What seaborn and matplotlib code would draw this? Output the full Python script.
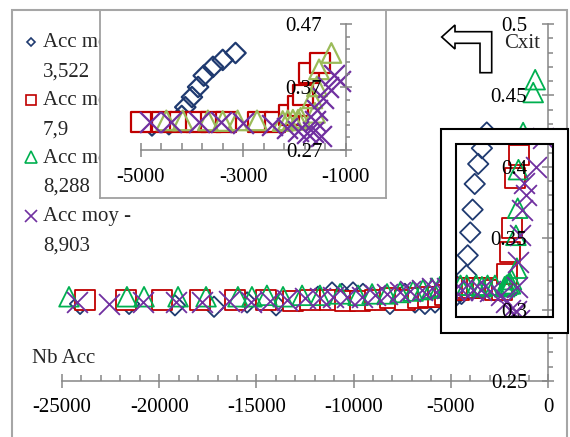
import numpy as np
import matplotlib
matplotlib.use("Agg")
import matplotlib.pyplot as plt
from matplotlib.patches import Rectangle, Polygon
from matplotlib.lines import Line2D
from matplotlib.ticker import FixedLocator, FixedFormatter, MultipleLocator
import seaborn as sns

# ---------------- data ----------------
legend_labels = ["Acc moy - 3,522", "Acc moy - 7,9", "Acc moy - 8,288", "Acc moy - 8,903"]

x_diamond = [-24070, -21550, -19190, -17180, -15480, -13990, -12810, -11830, -11110, -10600,
             -10030, -9520, -8900, -8130, -7360, -6840, -6330, -5810, -5300, -4780,
             -4450, -4200, -4130, -4000, -3880, -3770, -3590, -3400, -3150]
y_diamond = [0.304, 0.304, 0.303, 0.302, 0.305, 0.303, 0.306, 0.309, 0.312, 0.311,
             0.312, 0.311, 0.307, 0.304, 0.311, 0.305, 0.304, 0.305, 0.306, 0.309,
             0.311, 0.324, 0.338, 0.354, 0.370, 0.388, 0.402, 0.413, 0.424]

x_square = [-23820, -21710, -19860, -17900, -16100, -14510, -13120, -12240, -11210, -10440,
            -9670, -8900, -8130, -7360, -6690, -6170, -5660, -5300, -4990, -4590,
            -4230, -3920, -3630, -3340, -2710, -2380, -2100, -1930, -1830, -1720, -1500]
y_square = [0.307, 0.307, 0.307, 0.307, 0.307, 0.307, 0.306, 0.307, 0.307, 0.306,
            0.306, 0.307, 0.308, 0.307, 0.308, 0.309, 0.309, 0.310, 0.314, 0.314,
            0.315, 0.315, 0.315, 0.315, 0.314, 0.314, 0.325, 0.340, 0.357, 0.392, 0.408]

x_triangle = [-24640, -21660, -20780, -19030, -17590, -15950, -15230, -14460, -13630, -12650,
              -11730, -10700, -9770, -9050, -8280, -7610, -6940, -6430, -5970, -5560,
              -5200, -4500, -4180, -3690, -3400, -3110, -2730, -2230, -2130, -2030,
              -1930, -1880, -1600, -1650, -1560, -1520, -1280, -760, -660]
y_triangle = [0.309, 0.309, 0.309, 0.309, 0.309, 0.309, 0.309, 0.310, 0.309, 0.310,
              0.310, 0.311, 0.310, 0.311, 0.311, 0.312, 0.313, 0.314, 0.315, 0.316,
              0.316, 0.317, 0.317, 0.317, 0.316, 0.317, 0.317, 0.316, 0.317, 0.318,
              0.318, 0.321, 0.329, 0.352, 0.371, 0.398, 0.424, 0.452, 0.461]

x_cross = [-24230, -22580, -20830, -19140, -17800, -16410, -15280, -14300, -13430, -12500,
           -11730, -11060, -10340, -9570, -8900, -8280, -7610, -7100, -6480, -5970,
           -5560, -5200, -4820, -4410, -3860, -3440, -3000, -2440, -2150, -1930,
           -1760, -1640, -1480, -1600, -1560, -1450, -1350, -1220, -1120, -620, -280]
y_cross = [0.305, 0.304, 0.305, 0.305, 0.305, 0.306, 0.305, 0.306, 0.307, 0.308,
           0.308, 0.309, 0.309, 0.309, 0.310, 0.311, 0.312, 0.313, 0.314, 0.315,
           0.315, 0.315, 0.314, 0.314, 0.314, 0.314, 0.313, 0.310, 0.305, 0.300,
           0.297, 0.299, 0.293, 0.316, 0.333, 0.352, 0.370, 0.389, 0.380, 0.400, 0.420]

main_xticks = [-25000, -20000, -15000, -10000, -5000, 0]
main_xlabels = ["-25000", "-20000", "-15000", "-10000", "-5000", "0"]
main_yticks = [0.25, 0.30, 0.35, 0.40, 0.45, 0.50]
main_ylabels = ["0.25", "0.3", "0.35", "0.4", "0.45", "0.5"]
inset_xticks = [-5000, -3000, -1000]
inset_xlabels = ["-5000", "-3000", "-1000"]
inset_yticks = [0.27, 0.37, 0.47]
inset_ylabels = ["0.27", "0.37", "0.47"]
x_title = "Nb Acc"
y_title = "Cxit"

# ---------------- style ----------------
sns.set_style("ticks")
plt.rcParams['font.family'] = ['Liberation Serif', 'DejaVu Serif']
plt.rcParams['axes.unicode_minus'] = False
plt.rcParams['axes.axisbelow'] = False
FS = 15
AXC = '#868686'
NAVY, RED, GREEN, LGREEN, PURPLE = '#1F3A70', '#C00000', '#00B050', '#9BBB59', '#7030A0'

W, H = 570, 437
fig = plt.figure(figsize=(5.7, 4.37), dpi=100)
fig.patch.set_facecolor('white')

def fx(px):
    return px / W

def fy(py):
    return 1 - py / H

def rect_px(x0, y0, x1, y1, **kw):
    return Rectangle((fx(x0), fy(y1)), fx(x1) - fx(x0), fy(y0) - fy(y1),
                     transform=fig.transFigure, **kw)

series = [
    (x_diamond, y_diamond, 'D', NAVY, NAVY, 'none', 108),
    (x_square, y_square, 's', RED, RED, 'white', 205),
    (x_triangle, y_triangle, '^', GREEN, LGREEN, 'none', 200),
    (x_cross, y_cross, 'x', PURPLE, PURPLE, None, 225),
]

def draw_series(axis, xlim, ylim, lw, inset=False):
    for xs, ys, mk, col, col_in, fill, size in series:
        xs = np.asarray(xs, float)
        ys = np.asarray(ys, float)
        m = (xs >= xlim[0]) & (xs <= xlim[1]) & (ys >= ylim[0]) & (ys <= ylim[1])
        c = col_in if inset else col
        kw = dict(x=xs[m], y=ys[m], marker=mk, s=size, linewidth=lw, color=c,
                  ax=axis, legend=False, clip_on=False, zorder=2)
        if mk == 'x':
            sns.scatterplot(**kw)
        else:
            sns.scatterplot(facecolors=fill, edgecolor=c, **kw)

def style_axis(axis, xticks, xlabels, yticks, ylabels, xminor, yminor, ycross,
               xsize, ysize, xpad, ypad):
    axis.set_facecolor('none')
    axis.set_axisbelow(False)
    for s in ['top', 'right']:
        axis.spines[s].set_visible(False)
    axis.spines['left'].set_position(('data', ycross))
    for s in ['left', 'bottom']:
        axis.spines[s].set_color(AXC)
        axis.spines[s].set_linewidth(1.1)
    axis.xaxis.set_major_locator(FixedLocator(xticks))
    axis.xaxis.set_major_formatter(FixedFormatter(xlabels))
    axis.yaxis.set_major_locator(FixedLocator(yticks))
    axis.yaxis.set_major_formatter(FixedFormatter(ylabels))
    axis.xaxis.set_minor_locator(xminor)
    axis.yaxis.set_minor_locator(yminor)
    axis.tick_params(axis='x', which='major', direction='inout', length=xsize, width=1.1,
                     color=AXC, labelsize=FS, labelcolor='black', pad=xpad, bottom=True)
    axis.tick_params(axis='y', which='major', direction='inout', length=ysize, width=1.1,
                     color=AXC, labelsize=FS, labelcolor='black', pad=ypad, left=True)
    axis.tick_params(axis='x', which='minor', direction='in', length=4.3, width=1.1,
                     color=AXC, bottom=True)
    axis.tick_params(axis='y', which='minor', direction='in', length=3.5, width=1.1,
                     color=AXC, left=True)
    axis.set_xlabel('')
    axis.set_ylabel('')

# ---------------- main chart ----------------
ax = fig.add_axes([fx(62), fy(381), fx(548) - fx(62), fy(24) - fy(381)])
MX, MY = (-25000, 0), (0.25, 0.5)
draw_series(ax, MX, MY, 1.3)
ax.set_xlim(*MX)
ax.set_ylim(*MY)
style_axis(ax, main_xticks, main_xlabels, main_yticks, main_ylabels,
           MultipleLocator(1000), MultipleLocator(0.01), 0,
           9.4, 8.6, 7.9, 10.6)

# legend (drawn with the main axes so the inset covers it)
leg_y = [42, 100, 157, 216]
leg_ms = {'D': 4.5, 's': 7.4, '^': 8.2, 'x': 8.2}
for (xs, ys, mk, col, col_in, fill, size), lab, yy in zip(series, legend_labels, leg_y):
    ln = Line2D([fx(31)], [fy(yy)], transform=fig.transFigure, marker=mk,
                markersize=leg_ms[mk], markerfacecolor='none' if mk != 'x' else col,
                markeredgecolor=col, markeredgewidth=1.2, linestyle='none', clip_on=False)
    ax.add_artist(ln)
    first, second = lab.split(" - ")
    ax.text(fx(43), fy(yy + 5.5), first + " -", transform=fig.transFigure,
            fontsize=FS, ha='left', va='baseline')
    ax.text(fx(43), fy(yy + 35), second, transform=fig.transFigure,
            fontsize=FS, ha='left', va='baseline')

# ---------------- inset ----------------
frame_ax = fig.add_axes([fx(100), fy(198), fx(386) - fx(100), fy(10) - fy(198)])
frame_ax.set_facecolor('white')
frame_ax.set_xticks([])
frame_ax.set_yticks([])
for s in frame_ax.spines.values():
    s.set_color('#A0A0A0')
    s.set_linewidth(1.3)

ins = fig.add_axes([fx(140.7), fy(150), fx(345.7) - fx(140.7), fy(24) - fy(150)])
IX, IY = (-5000, -1000), (0.27, 0.47)
draw_series(ins, IX, IY, 1.6, inset=True)
ins.set_xlim(*IX)
ins.set_ylim(*IY)
style_axis(ins, inset_xticks, inset_xlabels, inset_yticks, inset_ylabels,
           FixedLocator(np.arange(-5000, -999, 400)),
           FixedLocator(np.round(np.arange(0.27, 0.4701, 0.02), 3)), -1000,
           10, 8.5, 8.3, 12.6)
ins.tick_params(axis='y', which='minor', length=3)
ins.tick_params(axis='x', which='minor', length=5)

# ---------------- overlays ----------------
fig.patches.append(rect_px(12, 10, 567, 445, fill=False, edgecolor='#A6A6A6', linewidth=1.5))
for (a, b, c, d) in [(440.7, 129.3, 568, 144.3), (440.7, 317.3, 568, 333),
                     (440.7, 144.3, 456, 317.3), (553.3, 144.3, 568, 317.3)]:
    fig.patches.append(rect_px(a, b, c, d, facecolor='white', edgecolor='none'))
fig.patches.append(rect_px(440.7, 129.3, 568, 333, fill=False, edgecolor='black', linewidth=1.5))
fig.patches.append(rect_px(456, 144.3, 553.3, 317.3, fill=False, edgecolor='black', linewidth=1.5))

arrow_px = [(441.7, 37), (455, 25), (455, 31.7), (491.7, 31.7), (491.7, 72.7),
            (480, 72.7), (480, 43.3), (455, 43.3), (455, 49)]
fig.patches.append(Polygon([(fx(a), fy(b)) for a, b in arrow_px], closed=True,
                           transform=fig.transFigure, facecolor='white',
                           edgecolor='black', linewidth=1.2))

fig.text(fx(32), fy(363), x_title, fontsize=FS, ha='left', va='baseline')
fig.text(fx(522), fy(48), y_title, fontsize=FS, ha='center', va='baseline')

fig.savefig("out.png", dpi=100)
